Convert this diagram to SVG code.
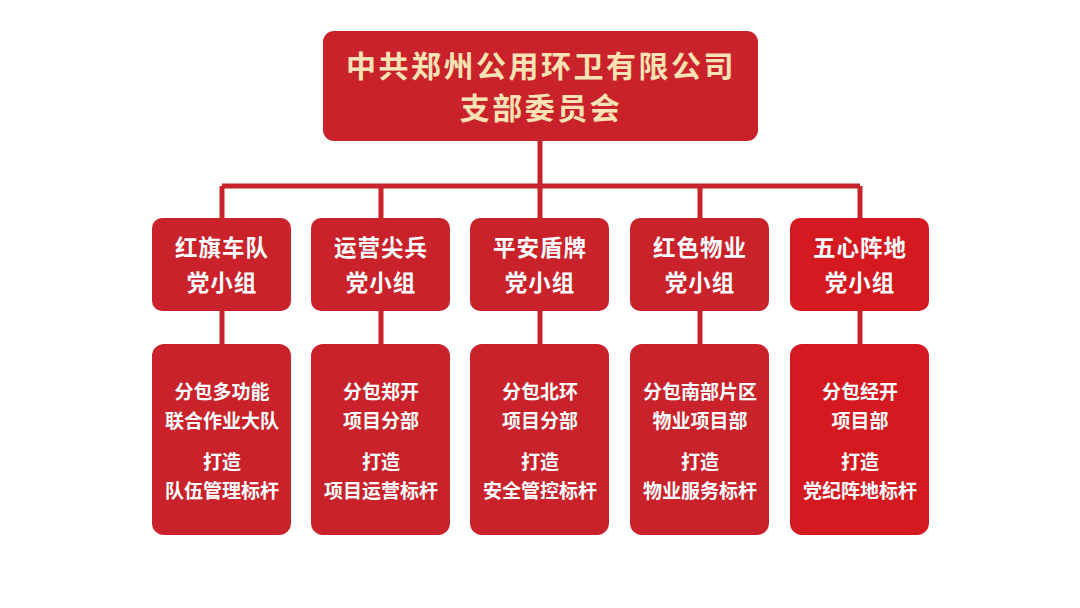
<svg xmlns="http://www.w3.org/2000/svg" width="1080" height="608" viewBox="0 0 1080 608">
<style>
.box{fill:#c9222b}
.box5{fill:#d41a20}
.t{font-family:"Noto Sans CJK SC","Noto Sans",sans-serif;font-weight:bold;text-anchor:middle}
.title{fill:#fbe2b4;font-size:30px;letter-spacing:2.5px}
.g{fill:#ffffff;font-size:22.5px;letter-spacing:1px}
.s{fill:#ffffff;font-size:19px}
.c{stroke:#c8222b;stroke-width:5;fill:none}
</style>
<rect width="1080" height="608" fill="#ffffff"/>
<g id="connectors">
<path class="c" d="M540 140V186M222 186H860M222 186V218M381 186V218M540 186V218M700 186V218M860 186V218"/>
<path class="c" d="M222 311V344M381 311V344M540 311V344M700 311V344M860 311V344"/>
</g>
<g id="top">
<rect class="box" x="323" y="31" width="435" height="110" rx="11"/>
<text class="t title" x="541" y="77">中共郑州公用环卫有限公司</text>
<text class="t title" x="541" y="119">支部委员会</text>
</g>
<g id="g1">
<rect class="box" x="152" y="218" width="139" height="93" rx="10"/>
<text class="t g" x="222" y="256">红旗车队</text>
<text class="t g" x="222" y="291">党小组</text>
</g>
<g id="g2">
<rect class="box" x="311" y="218" width="139" height="93" rx="10"/>
<text class="t g" x="381" y="256">运营尖兵</text>
<text class="t g" x="381" y="291">党小组</text>
</g>
<g id="g3">
<rect class="box" x="470" y="218" width="139" height="93" rx="10"/>
<text class="t g" x="540" y="256">平安盾牌</text>
<text class="t g" x="540" y="291">党小组</text>
</g>
<g id="g4">
<rect class="box" x="630" y="218" width="139" height="93" rx="10"/>
<text class="t g" x="700" y="256">红色物业</text>
<text class="t g" x="700" y="291">党小组</text>
</g>
<g id="g5">
<rect class="box5" x="790" y="218" width="139" height="93" rx="10"/>
<text class="t g" x="860" y="256">五心阵地</text>
<text class="t g" x="860" y="291">党小组</text>
</g>
<g id="d1">
<rect class="box" x="152" y="344" width="139" height="191" rx="12"/>
<text class="t s" x="222" y="399">分包多功能</text>
<text class="t s" x="222" y="428">联合作业大队</text>
<text class="t s" x="222" y="469">打造</text>
<text class="t s" x="222" y="498">队伍管理标杆</text>
</g>
<g id="d2">
<rect class="box" x="311" y="344" width="139" height="191" rx="12"/>
<text class="t s" x="381" y="399">分包郑开</text>
<text class="t s" x="381" y="428">项目分部</text>
<text class="t s" x="381" y="469">打造</text>
<text class="t s" x="381" y="498">项目运营标杆</text>
</g>
<g id="d3">
<rect class="box" x="470" y="344" width="139" height="191" rx="12"/>
<text class="t s" x="540" y="399">分包北环</text>
<text class="t s" x="540" y="428">项目分部</text>
<text class="t s" x="540" y="469">打造</text>
<text class="t s" x="540" y="498">安全管控标杆</text>
</g>
<g id="d4">
<rect class="box" x="630" y="344" width="139" height="191" rx="12"/>
<text class="t s" x="700" y="399">分包南部片区</text>
<text class="t s" x="700" y="428">物业项目部</text>
<text class="t s" x="700" y="469">打造</text>
<text class="t s" x="700" y="498">物业服务标杆</text>
</g>
<g id="d5">
<rect class="box5" x="790" y="344" width="139" height="191" rx="12"/>
<text class="t s" x="860" y="399">分包经开</text>
<text class="t s" x="860" y="428">项目部</text>
<text class="t s" x="860" y="469">打造</text>
<text class="t s" x="860" y="498">党纪阵地标杆</text>
</g>
</svg>
